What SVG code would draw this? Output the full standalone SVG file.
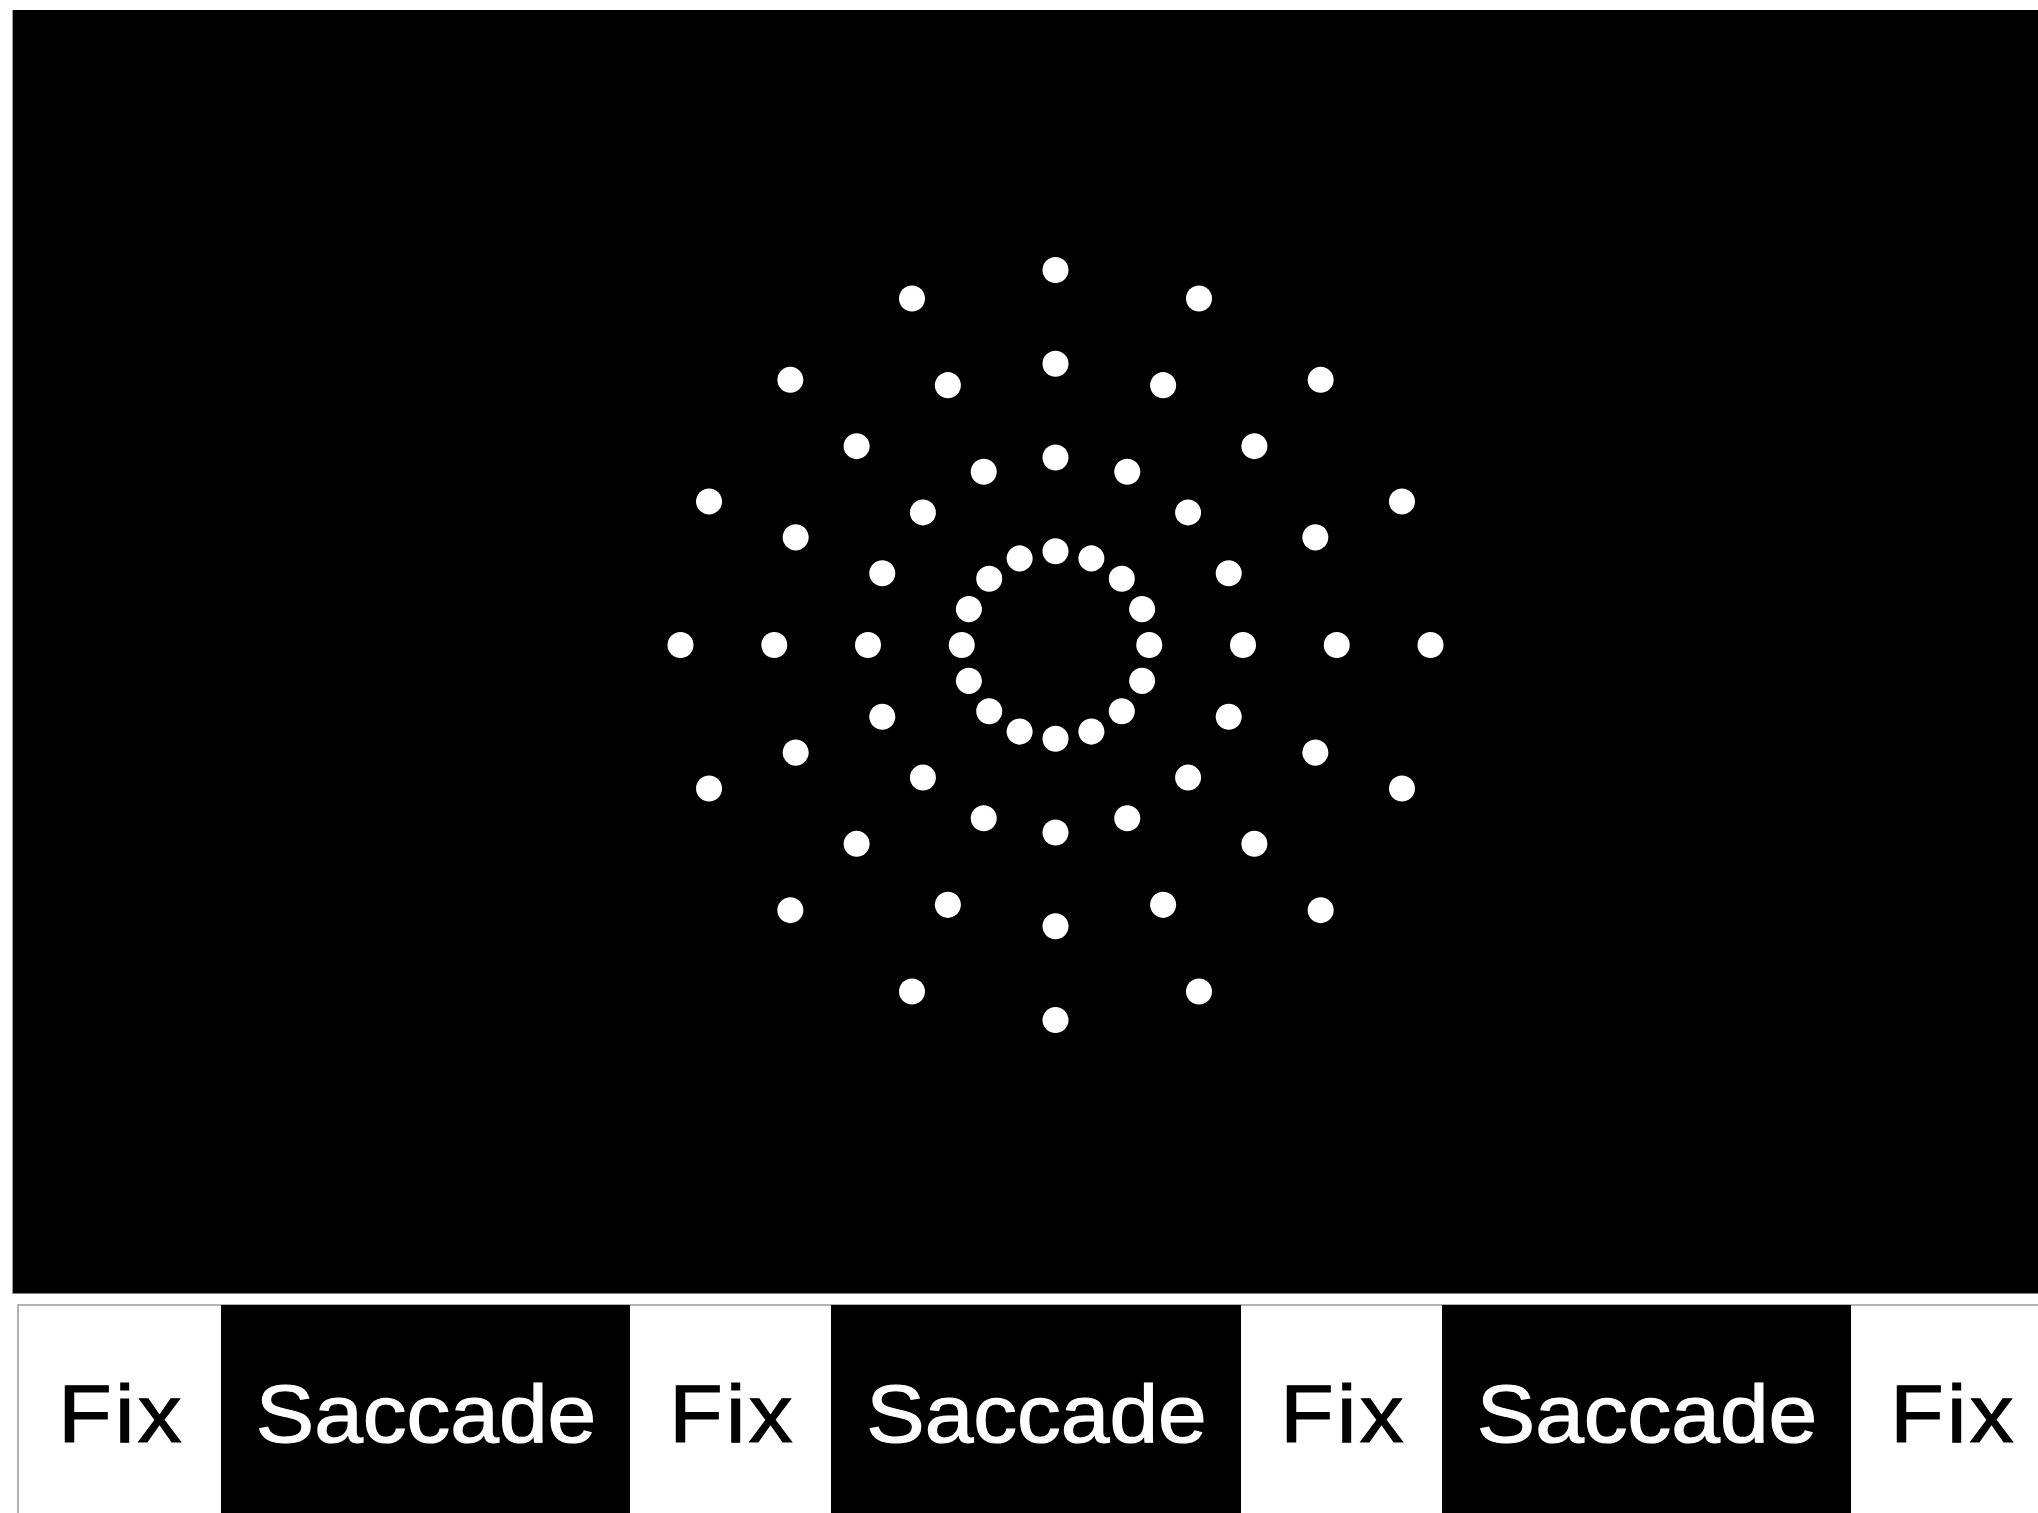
<svg xmlns="http://www.w3.org/2000/svg" xmlns:xlink="http://www.w3.org/1999/xlink" width="2038" height="1513" viewBox="0 0 2038 1513">
  <style>
    .dot { fill: #ffffff; }
    .lbl { font-family: "Liberation Sans", Arial, Helvetica, sans-serif; font-size: 81px; text-anchor: middle; stroke-width: 1.2px; }
    .fix { fill: #000000; stroke: #000000; letter-spacing: 3px; }
    .sac { fill: #ffffff; stroke: #ffffff; }
  </style>
  <defs>
    <g id="spoke">
      <circle class="dot" cx="0" cy="-93.75" r="13"/>
      <circle class="dot" cx="0" cy="-187.5" r="13"/>
      <circle class="dot" cx="0" cy="-281.25" r="13"/>
      <circle class="dot" cx="0" cy="-375" r="13"/>
    </g>
  </defs>
  <rect width="2038" height="1513" fill="#ffffff"/>
  <g id="display">
    <rect x="12.5" y="10" width="2030" height="1283.5" fill="#000000"/>
    <line x1="12.5" y1="10" x2="12.5" y2="1293.5" stroke="#9a9a9a" stroke-width="1"/>
  </g>
  <g id="stimulus" transform="translate(1055.5 645)">
    <use xlink:href="#spoke" transform="rotate(0)"/>
    <use xlink:href="#spoke" transform="rotate(22.5)"/>
    <use xlink:href="#spoke" transform="rotate(45)"/>
    <use xlink:href="#spoke" transform="rotate(67.5)"/>
    <use xlink:href="#spoke" transform="rotate(90)"/>
    <use xlink:href="#spoke" transform="rotate(112.5)"/>
    <use xlink:href="#spoke" transform="rotate(135)"/>
    <use xlink:href="#spoke" transform="rotate(157.5)"/>
    <use xlink:href="#spoke" transform="rotate(180)"/>
    <use xlink:href="#spoke" transform="rotate(202.5)"/>
    <use xlink:href="#spoke" transform="rotate(225)"/>
    <use xlink:href="#spoke" transform="rotate(247.5)"/>
    <use xlink:href="#spoke" transform="rotate(270)"/>
    <use xlink:href="#spoke" transform="rotate(292.5)"/>
    <use xlink:href="#spoke" transform="rotate(315)"/>
    <use xlink:href="#spoke" transform="rotate(337.5)"/>
  </g>
  <g id="timeline">
    <rect x="18" y="1305" width="2040" height="230" fill="#ffffff" stroke="#9a9a9a" stroke-width="1.5"/>
    <g id="fix1"><text class="lbl fix" transform="translate(121.5 1442) scale(1.08 1)">Fix</text></g>
    <g id="saccade1"><rect x="221" y="1305" width="409" height="210" fill="#000000"/><text class="lbl sac" transform="translate(426 1442) scale(1.08 1)">Saccade</text></g>
    <g id="fix2"><text class="lbl fix" transform="translate(732.5 1442) scale(1.08 1)">Fix</text></g>
    <g id="saccade2"><rect x="831" y="1305" width="410" height="210" fill="#000000"/><text class="lbl sac" transform="translate(1036.5 1442) scale(1.08 1)">Saccade</text></g>
    <g id="fix3"><text class="lbl fix" transform="translate(1343.5 1442) scale(1.08 1)">Fix</text></g>
    <g id="saccade3"><rect x="1442" y="1305" width="409" height="210" fill="#000000"/><text class="lbl sac" transform="translate(1647 1442) scale(1.08 1)">Saccade</text></g>
    <g id="fix4"><text class="lbl fix" transform="translate(1953.5 1442) scale(1.08 1)">Fix</text></g>
  </g>
</svg>
